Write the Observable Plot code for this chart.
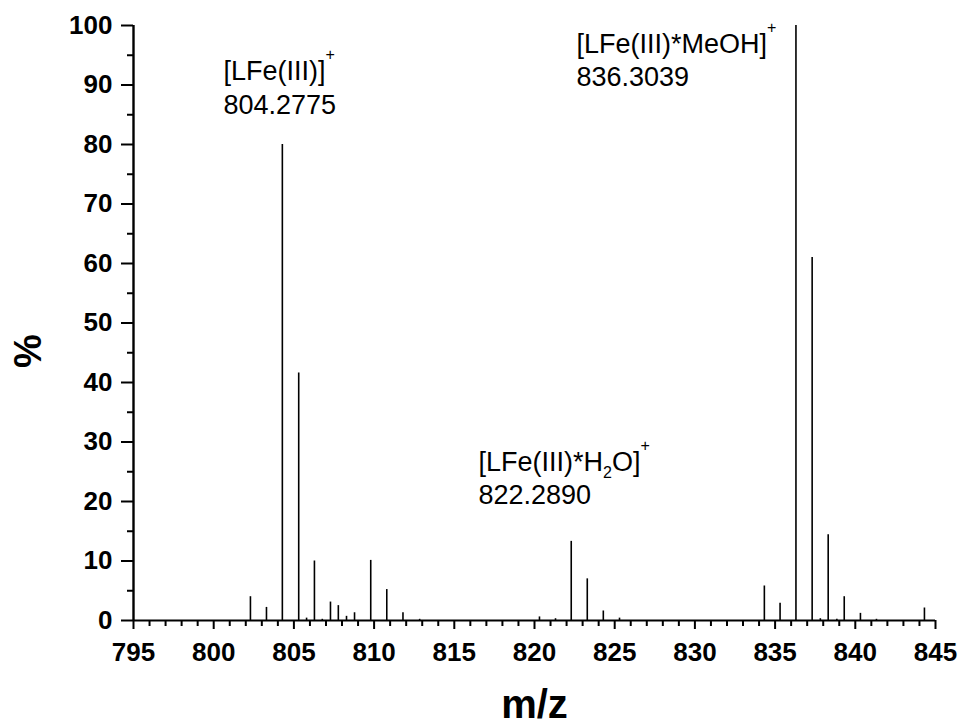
<!DOCTYPE html>
<html><head><meta charset="utf-8">
<script src="https://cdn.jsdelivr.net/npm/d3@7"></script>
<script src="https://cdn.jsdelivr.net/npm/@observablehq/plot@0.6"></script>
<style>body{margin:0;background:#fff;}</style>
</head><body><div id="chart"></div>
<script>
// peak positions (m/z) and relative intensities (%)
const mz = [802.29, 803.29, 804.28, 805.30, 805.79, 806.28, 806.77, 807.28, 807.77, 808.28, 808.78, 809.79, 810.79, 811.80, 812.84,
            820.31, 821.31, 822.29, 823.29, 824.29, 825.30,
            834.33, 835.31, 836.30, 837.31, 837.82, 838.31, 838.85, 839.31, 840.32, 841.32, 844.31];
const intensity = [4.0, 2.2, 80.0, 41.6, 0.4, 10.0, 0.2, 3.1, 2.5, 0.7, 1.3, 10.1, 5.2, 1.3, 0.2,
                   0.6, 0.3, 13.3, 7.0, 1.6, 0.4,
                   5.8, 2.9, 100, 61.0, 0.3, 14.4, 0.2, 4.0, 1.2, 0.2, 2.1];

const xMajorTicks = [795, 800, 805, 810, 815, 820, 825, 830, 835, 840, 845];
const xMinorTicks = [796,797,798,799,801,802,803,804,806,807,808,809,811,812,813,814,816,817,818,819,
                     821,822,823,824,826,827,828,829,831,832,833,834,836,837,838,839,841,842,843,844];
const yMajorTicks = [0, 10, 20, 30, 40, 50, 60, 70, 80, 90, 100];
const yMinorTicks = [5, 15, 25, 35, 45, 55, 65, 75, 85, 95];

// annotation lines: text, anchor m/z, anchor % (baseline)
const annText = ["[LFe(III)]^+", "804.2775", "[LFe(III)*H_2O]^+", "822.2890", "[LFe(III)*MeOH]^+", "836.3039"];
const annX    = [800.61, 800.61, 816.51, 816.51, 822.62, 822.62];
const annY    = [90.8, 85.2, 25.2, 19.5, 95.3, 89.9];

const peaks = mz.map((m, i) => ({mz: m, pct: intensity[i]}));
const ann = annText.map((t, i) => ({text: t, x: annX[i], y: annY[i]}));

const chart = Plot.plot({
  width: 962, height: 726,
  marginLeft: 133, marginRight: 27, marginTop: 25, marginBottom: 106,
  x: {domain: [795, 845]},
  y: {domain: [0, 100]},
  style: {fontFamily: "'Liberation Sans', Arial, sans-serif", background: "#fff", color: "#000"},
  marks: [
    Plot.axisX({ticks: xMinorTicks, tickSize: 6, tickFormat: () => "", strokeWidth: 2, label: null, anchor: "bottom"}),
    Plot.axisX({ticks: xMajorTicks, tickSize: 9, tickPadding: 13, tickFormat: d => String(d), fontSize: 26, fontWeight: "bold", strokeWidth: 2, label: null, anchor: "bottom"}),
    Plot.axisY({ticks: yMinorTicks, tickSize: 6, tickFormat: () => "", strokeWidth: 2, label: null, anchor: "left"}),
    Plot.axisY({ticks: yMajorTicks, tickSize: 12, tickPadding: 9, tickFormat: d => String(d), fontSize: 26, fontWeight: "bold", strokeWidth: 2, label: null, anchor: "left"}),
    Plot.ruleX(peaks, {x: "mz", y1: 0, y2: "pct", stroke: "#000", strokeWidth: 1.6}),
    Plot.ruleY([0], {stroke: "#000", strokeWidth: 2.2}),
    Plot.ruleX([795], {stroke: "#000", strokeWidth: 2.4}),
    Plot.text(["%"], {frameAnchor: "left", dx: -105, dy: 45, rotate: -90, fontSize: 38, fontWeight: "bold"}),
    Plot.text(["m/z"], {frameAnchor: "bottom", dy: 97, fontSize: 40, fontWeight: "bold"}),
    Plot.text(ann, {x: "x", y: "y", text: "text", textAnchor: "start", lineAnchor: "bottom", fontSize: 27, className: "ann"})
  ]
});

// superscript / subscript formatting of annotation text
d3.select(chart).selectAll(".ann text").each(function () {
  const t = this.textContent;
  if (!/[\^_]/.test(t)) return;
  const sel = d3.select(this);
  sel.text(null);
  const re = /([\^_])(.)|([^\^_]+)/g;
  let m, shift = 0;
  while ((m = re.exec(t))) {
    if (m[3]) {
      sel.append("tspan").attr("dy", -shift).text(m[3]);
      shift = 0;
    } else {
      const s = m[1] === "^" ? -20 : 7;
      sel.append("tspan").attr("dy", s - shift).attr("font-size", 16).text(m[2]);
      shift = s;
    }
  }
});

document.getElementById("chart").appendChild(chart);
</script>
</body></html>
